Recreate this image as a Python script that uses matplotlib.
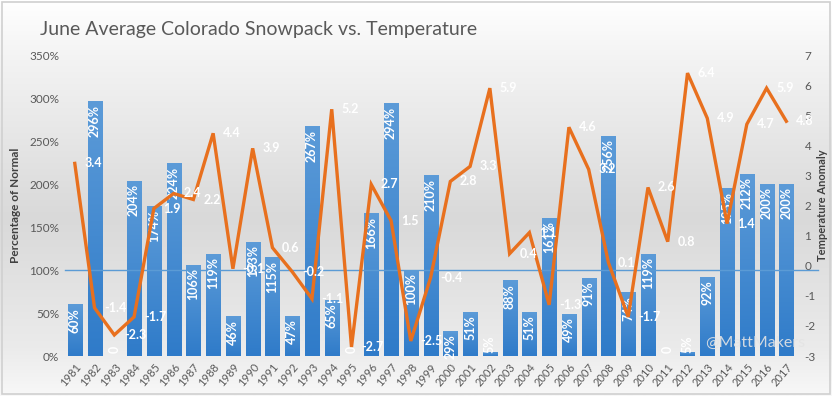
import matplotlib
matplotlib.use("Agg")
import matplotlib.pyplot as plt
import numpy as np
from matplotlib.colors import LinearSegmentedColormap
from matplotlib.patches import Rectangle

plt.rcParams["font.family"] = ["Lato", "DejaVu Sans"]

# --- data ---
years = [str(y) for y in range(1981, 2018)]
snowpack = [60, 296, 0, 204, 174, 224, 106, 119, 46, 133,
            115, 47, 267, 65, 0, 166, 294, 100, 210, 29,
            51, 5, 88, 51, 161, 49, 91, 256, 74, 119,
            0, 5, 92, 195, 212, 200, 200]
temp_anomaly = [3.4, -1.4, -2.3, -1.7, 1.9, 2.4, 2.2, 4.4, -0.1, 3.9,
                0.6, -0.2, -1.1, 5.2, -2.7, 2.7, 1.5, -2.5, -0.4, 2.8,
                3.3, 5.9, 0.4, 1.1, -1.3, 4.6, 3.2, 0.1, -1.7, 2.6,
                0.8, 6.4, 4.9, 1.4, 4.7, 5.9, 4.8]
left_ticks = [0, 50, 100, 150, 200, 250, 300, 350]
right_ticks = list(range(-3, 8))

TEXT = "#595959"
ORANGE = "#e8701e"

fig = plt.figure(figsize=(8.32, 3.96), dpi=100)

# background gradient over the whole figure
bg = fig.add_axes([0, 0, 1, 1], zorder=-10)
bg_cmap = LinearSegmentedColormap.from_list(
    "bg", [(0.0, "#f8f8f8"), (0.12, "#ebebeb"), (0.45, "#d9d9d9"),
           (0.85, "#f3f3f3"), (1.0, "#ffffff")])
bg.imshow(np.linspace(0, 1, 256).reshape(-1, 1), aspect="auto", cmap=bg_cmap,
          extent=[0, 1, 0, 1], origin="lower")
bg.add_patch(Rectangle((0.002, 0.004), 0.995, 0.992, fill=False,
                       edgecolor="#d0d0d0", lw=1.2, transform=bg.transAxes))
bg.set_axis_off()

ax = fig.add_axes([0.078, 0.101, 0.879, 0.760])
ax.patch.set_alpha(0)
x = np.arange(len(years))

bars = ax.bar(x, snowpack, width=0.71, color="#4a8cd3", zorder=2)
# vertical gradient inside each bar
bar_cmap = LinearSegmentedColormap.from_list("bar", ["#2f7bc9", "#5c9bd8"])
grad = np.linspace(0, 1, 128).reshape(-1, 1)
for b in bars:
    h = b.get_height()
    if h <= 0:
        continue
    im = ax.imshow(grad, aspect="auto", cmap=bar_cmap, origin="lower",
                   extent=[b.get_x(), b.get_x() + b.get_width(), 0, h], zorder=2)
    im.set_clip_path(b)

ax.set_xlim(-0.5, len(years) - 0.5)
ax.set_ylim(0, 350)
ax.set_yticks(left_ticks)
ax.set_yticklabels([f"{t}%" for t in left_ticks], fontsize=8.5, color=TEXT)
ax.set_xticks(x)
ax.set_xticklabels(years, rotation=50, ha="right", rotation_mode="anchor",
                   fontsize=8, color=TEXT)
ax.tick_params(length=0, pad=4)
for s in ax.spines.values():
    s.set_visible(False)
ax.set_ylabel("Percentage of Normal", fontsize=8.5, fontweight="bold",
              color="#404040", labelpad=6)

ax.axhline(100, color="#5b9bd5", lw=1, zorder=3, xmax=1.03, clip_on=False)

# bar labels
for xi, v in zip(x, snowpack):
    txt = f"{v}%" if v > 0 else "0"
    y = v - 4 if v >= 20 else 4
    va = "top" if v >= 20 else "bottom"
    ax.text(xi, y, txt, rotation=90, ha="center", va=va, color="white",
            fontsize=9, fontweight="bold", zorder=6)

ax2 = ax.twinx()
ax2.set_ylim(-3, 7)
ax2.set_yticks(right_ticks)
ax2.set_yticklabels([str(t) for t in right_ticks], fontsize=8.5, color=TEXT)
ax2.tick_params(length=0, pad=6)
for s in ax2.spines.values():
    s.set_visible(False)
ax2.plot(x, temp_anomaly, color=ORANGE, lw=2.4, zorder=4, solid_joinstyle="miter")
for xi, t in zip(x, temp_anomaly):
    ax2.annotate(f"{t:g}", (xi, t), xytext=(7, 0), textcoords="offset points",
                 ha="left", va="center", color="white", fontsize=9,
                 fontweight="bold", zorder=6)
ax2.set_ylabel("Temperature Anomaly", fontsize=8, fontweight="bold",
               color="#404040", rotation=90, labelpad=1)

fig.text(0.048, 0.925, "June Average Colorado Snowpack vs. Temperature",
         fontsize=14, color=TEXT, ha="left", va="center")
# watermark, drawn on top of the bars
ax2.text(0.875, 0.045, "@MattMakers", transform=ax2.transAxes, fontsize=11.5,
         color="#e4e4e4", alpha=0.9, ha="left", va="center", zorder=20)

fig.savefig("out.png", dpi=100)
